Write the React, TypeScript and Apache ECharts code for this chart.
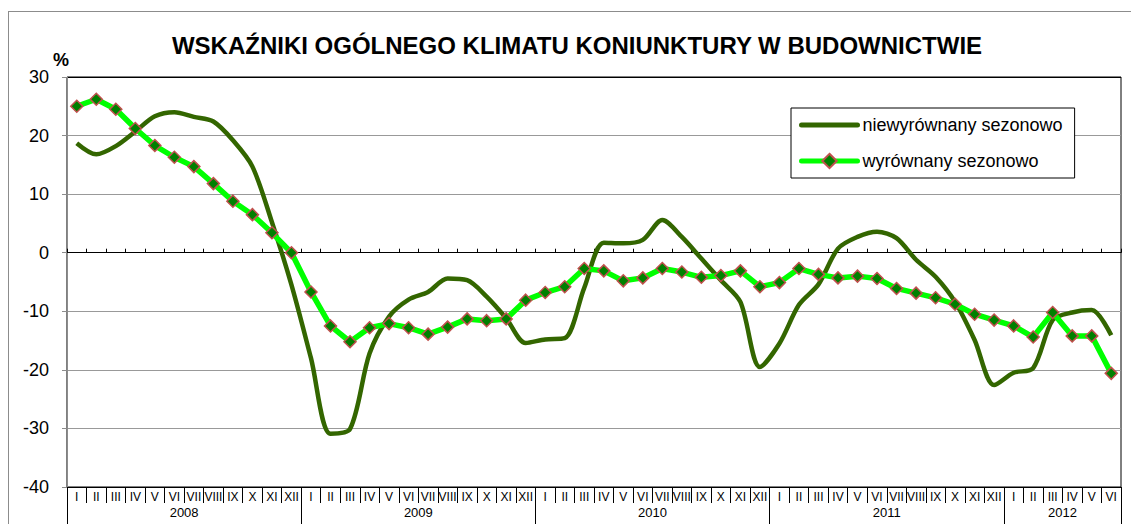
import React, { useEffect, useRef } from 'react';
import * as echarts from 'echarts';

const TITLE = 'WSKAŹNIKI OGÓLNEGO KLIMATU KONIUNKTURY W BUDOWNICTWIE';
const UNIT = '%';
const months = ['I', 'II', 'III', 'IV', 'V', 'VI', 'VII', 'VIII', 'IX', 'X', 'XI', 'XII'];
const years = ['2008', '2009', '2010', '2011', '2012'];
const monthsInLastYear = 6;

const seriesNames = ['niewyrównany sezonowo', 'wyrównany sezonowo'];

// niewyrównany sezonowo (seasonally unadjusted)
const unadjusted = [
  18.7, 16.8, 18.2, 20.7, 23.3, 24.0, 23.2, 22.4, 19.2, 14.7, 5.2, -5.5,
  -18.0, -30.9, -30.1, -17.2, -10.9, -8.0, -6.7, -4.4, -4.7, -7.5, -11.2, -15.4,
  -14.8, -14.6, -6.0, 1.7, 1.6, 2.2, 5.6, 2.7, -1.0, -4.7, -8.4, -19.5,
  -15.5, -8.9, -5.4, 0.7, 2.7, 3.6, 2.5, -1.2, -4.1, -8.4, -14.9, -22.6,
  -20.5, -19.7, -11.5, -10.2, -9.8, -14.1,
];

// wyrównany sezonowo (seasonally adjusted)
const adjusted = [
  25.0, 26.2, 24.5, 21.2, 18.3, 16.3, 14.7, 11.8, 8.8, 6.5, 3.4, 0.0,
  -6.7, -12.5, -15.2, -12.8, -12.1, -12.8, -13.9, -12.7, -11.3, -11.6, -11.3, -8.1,
  -6.8, -5.8, -2.7, -3.1, -4.8, -4.3, -2.7, -3.3, -4.2, -3.9, -3.1, -5.8,
  -5.1, -2.7, -3.7, -4.3, -4.0, -4.4, -6.1, -6.9, -7.7, -8.8, -10.5, -11.5,
  -12.5, -14.4, -10.2, -14.2, -14.2, -20.6,
];

const yMin = -40;
const yMax = 30;
const yStep = 10;

// month categories
const categories: string[] = [];
years.forEach((_, i) => {
  const len = i === years.length - 1 ? monthsInLastYear : 12;
  for (let m = 0; m < len; m++) categories.push(months[m]);
});
const totalMonths = categories.length;

// year axis: one point every 3 months (boundaryGap false)
const STEP = 3;
const yearAxisData: string[] = Array.from({ length: totalMonths / STEP + 1 }, () => '');
const yearBoundaryIdx = new Set<number>();
years.forEach((y, i) => {
  const len = i === years.length - 1 ? monthsInLastYear : 12;
  const start = i * 12;
  yearAxisData[(start + len / 2) / STEP] = y;
  yearBoundaryIdx.add(start / STEP);
});
yearBoundaryIdx.add(totalMonths / STEP);

const FONT = '"Liberation Sans", Arial, sans-serif';

export default function App() {
  const ref = useRef<HTMLDivElement>(null);

  useEffect(() => {
    if (!ref.current) return;
    const chart = echarts.init(ref.current, undefined, { renderer: 'svg' });
    const splitColors: string[] = [];
    for (let v = yMin; v <= yMax; v += yStep) splitColors.push(v === yMax ? '#000000' : '#999999');

    chart.setOption({
      animation: false,
      backgroundColor: '#ffffff',
      textStyle: { fontFamily: FONT },
      grid: {
        left: 67,
        right: 10,
        top: 77,
        bottom: 37,
        show: true,
        borderColor: '#000000',
        borderWidth: 1,
        backgroundColor: 'transparent',
      },
      legend: {
        left: 791,
        top: 108,
        orient: 'vertical',
        selectedMode: false,
        data: [
          { name: seriesNames[0], itemStyle: { opacity: 0 } },
          { name: seriesNames[1] },
        ],
        itemWidth: 56,
        itemHeight: 18,
        itemGap: 18,
        padding: [8, 12, 8, 8],
        borderColor: '#000000',
        borderWidth: 1,
        backgroundColor: '#ffffff',
        lineStyle: { width: 5, cap: 'round' },
        textStyle: { fontSize: 18, color: '#000000', fontFamily: FONT },
      },
      graphic: [
        {
          type: 'line',
          shape: { x1: 8, y1: 11.5, x2: 1131, y2: 11.5 },
          style: { stroke: '#8c8c8c', lineWidth: 1 },
        },
        {
          type: 'line',
          shape: { x1: 8.5, y1: 11, x2: 8.5, y2: 524 },
          style: { stroke: '#8c8c8c', lineWidth: 1 },
        },
        {
          type: 'text',
          x: 577,
          y: 45,
          style: {
            text: TITLE,
            fontSize: 24,
            fontWeight: 'bold',
            fontFamily: FONT,
            fill: '#000000',
            align: 'center',
            verticalAlign: 'middle',
          },
        },
        {
          type: 'text',
          x: 53,
          y: 60,
          style: {
            text: UNIT,
            fontSize: 18,
            fontWeight: 'bold',
            fontFamily: FONT,
            fill: '#000000',
            align: 'left',
            verticalAlign: 'middle',
          },
        },
      ],
      xAxis: [
        {
          type: 'category',
          data: categories,
          position: 'bottom',
          boundaryGap: true,
          axisLine: { onZero: false, lineStyle: { color: '#000000', width: 1 } },
          axisTick: { show: true, interval: 0, length: 16, lineStyle: { color: '#000000' } },
          axisLabel: { interval: 0, fontSize: 12, margin: 4, color: '#000000' },
          splitLine: { show: false },
        },
        {
          type: 'category',
          data: categories,
          position: 'bottom',
          boundaryGap: true,
          axisLine: { onZero: true, lineStyle: { color: '#000000', width: 1 } },
          axisTick: { show: true, inside: true, interval: 0, length: 4, lineStyle: { color: '#000000' } },
          axisLabel: { show: false },
          splitLine: { show: false },
        },
        {
          type: 'category',
          data: yearAxisData,
          position: 'bottom',
          boundaryGap: false,
          axisLine: { show: false, onZero: false },
          axisTick: {
            show: true,
            interval: (i: number) => yearBoundaryIdx.has(i),
            length: 37,
            lineStyle: { color: '#000000' },
          },
          axisLabel: { interval: 0, fontSize: 13, margin: 19, color: '#000000' },
          splitLine: { show: false },
        },
      ],
      yAxis: {
        type: 'value',
        min: yMin,
        max: yMax,
        interval: yStep,
        axisLine: { show: true, lineStyle: { color: '#8c8c8c', width: 1 } },
        axisTick: { show: true, length: 5, lineStyle: { color: '#8c8c8c' } },
        axisLabel: { fontSize: 18, color: '#000000', margin: 18 },
        splitLine: { show: true, lineStyle: { color: splitColors, width: 1 } },
      },
      series: [
        {
          name: seriesNames[0],
          type: 'line',
          xAxisIndex: 0,
          data: unadjusted,
          smooth: 0.3,
          symbol: 'none',
          lineStyle: { color: '#336600', width: 4.5 },
          itemStyle: { color: '#336600' },
          z: 3,
        },
        {
          name: seriesNames[1],
          type: 'line',
          xAxisIndex: 0,
          data: adjusted,
          symbol: 'diamond',
          symbolSize: 12,
          lineStyle: { color: '#00ff00', width: 5.5 },
          itemStyle: { color: '#008000', borderColor: '#c0504d', borderWidth: 1.5 },
          z: 4,
        },
      ],
    });
    return () => chart.dispose();
  }, []);

  return (
    <div
      ref={ref}
      style={{ position: 'absolute', left: 0, top: 0, width: 1131, height: 524 }}
    />
  );
}
